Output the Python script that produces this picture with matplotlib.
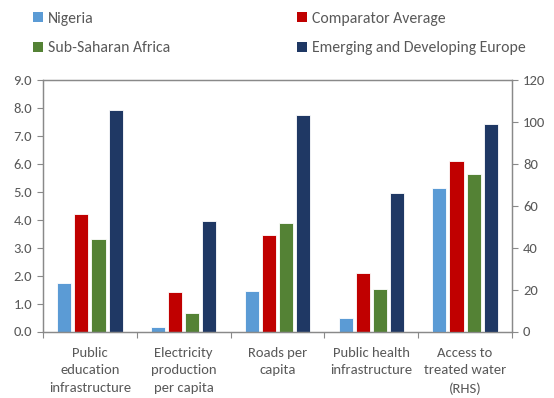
import matplotlib
matplotlib.use("Agg")
import matplotlib.pyplot as plt
from matplotlib.patches import Patch
import numpy as np

categories = ["Public\neducation\ninfrastructure", "Electricity\nproduction\nper capita",
              "Roads per\ncapita", "Public health\ninfrastructure", "Access to\ntreated water\n(RHS)"]
series_names = ["Nigeria", "Comparator Average", "Sub-Saharan Africa", "Emerging and Developing Europe"]
# first four categories on left axis, last (water) on right axis
nigeria = [1.75, 0.17, 1.45, 0.5, 68.5]
comparator = [4.22, 1.42, 3.47, 2.1, 81.5]
ssa = [3.3, 0.65, 3.9, 1.52, 75.0]
ede = [7.93, 3.97, 7.73, 4.95, 99.0]
colors = ["#5B9BD5", "#C00000", "#548235", "#1F3864"]
left_ticks = [0, 1, 2, 3, 4, 5, 6, 7, 8, 9]
right_ticks = [0, 20, 40, 60, 80, 100, 120]

FONT = ["Carlito", "Lato", "DejaVu Sans"]
plt.rcParams["font.family"] = FONT
TXT = "#595959"
SPINE = "#898989"

fig = plt.figure(figsize=(5.54, 3.98), dpi=100)
ax = fig.add_axes([43/554, 1-331.5/398, (512-43)/554, (331.5-80)/398])
ax2 = ax.twinx()

data = [nigeria, comparator, ssa, ede]
slot = 0.183
bw = 0.15
x = np.arange(len(categories))
for i, (vals, c) in enumerate(zip(data, colors)):
    off = (i - 1.5) * slot
    ax.bar(x[:4] + off, vals[:4], width=bw, color=c, edgecolor="white", linewidth=0.6)
    ax2.bar(x[4:] + off, vals[4:], width=bw, color=c, edgecolor="white", linewidth=0.6)

ax.set_xlim(-0.5, 4.5)
ax.set_ylim(0, 9)
ax2.set_ylim(0, 120)
ax.set_yticks(left_ticks)
ax.set_yticklabels([f"{v:.1f}" for v in left_ticks])
ax2.set_yticks(right_ticks)
ax2.set_yticklabels([str(v) for v in right_ticks])

ax.set_xticks(np.arange(-0.5, 5.0, 1.0))
ax.set_xticklabels([])
ax.set_xticks(x, minor=True)
ax.set_xticklabels(categories, minor=True, fontsize=10.5, color=TXT)
for t in ax.get_xticklabels(minor=True):
    t.set_linespacing(1.55)
ax.tick_params(axis="x", which="minor", length=0, pad=11)
ax.tick_params(axis="x", which="major", length=4, color=SPINE, direction="out")
ax.tick_params(axis="y", length=4, color=SPINE, labelcolor=TXT, labelsize=10.5, pad=4)
ax2.tick_params(axis="y", length=4, color=SPINE, labelcolor=TXT, labelsize=10.5, pad=4)

for a in (ax, ax2):
    for s in a.spines.values():
        s.set_color(SPINE)
        s.set_linewidth(0.9)

handles = [Patch(facecolor=c, edgecolor="none") for c in colors]
order = [0, 2, 1, 3]
fig.legend([handles[i] for i in order], [series_names[i] for i in order],
           ncol=2, loc="upper left", bbox_to_anchor=(19/554, 1.006),
           frameon=False, fontsize=11.3, labelcolor=TXT,
           handlelength=0.6, handleheight=0.6, handletextpad=0.35,
           columnspacing=8.1, labelspacing=1.0)

fig.savefig("out.png", dpi=100)
